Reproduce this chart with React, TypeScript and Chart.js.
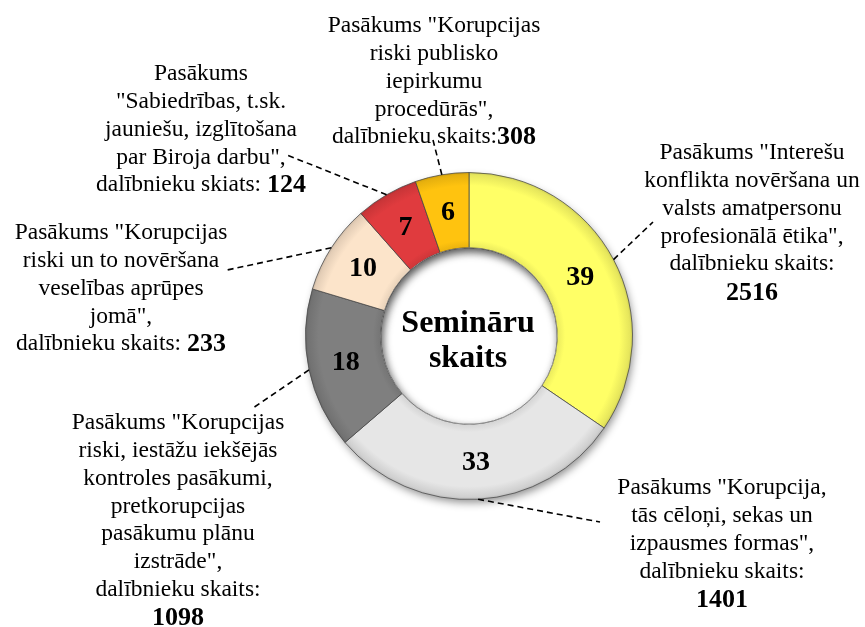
import React, { useEffect, useRef } from 'react';
import { Chart, registerables } from 'chart.js';
Chart.register(...registerables);

// ---- Data ----
const categories = [
  'Interešu konflikta novēršana un valsts amatpersonu profesionālā ētika',
  'Korupcija, tās cēloņi, sekas un izpausmes formas',
  'Korupcijas riski, iestāžu iekšējās kontroles pasākumi, pretkorupcijas pasākumu plānu izstrāde',
  'Korupcijas riski un to novēršana veselības aprūpes jomā',
  'Sabiedrības, t.sk. jauniešu, izglītošana par Biroja darbu',
  'Korupcijas riski publisko iepirkumu procedūrās',
];
const seminarCounts = [39, 33, 18, 10, 7, 6];
const participantCounts = [2516, 1401, 1098, 233, 124, 308];
const centerTitle = ['Semināru', 'skaits'];
// label text lines (the participant count is appended from participantCounts)
const labelLines = [
  ['Pasākums "Interešu', 'konflikta novēršana un', 'valsts amatpersonu', 'profesionālā ētika",', 'dalībnieku skaits:'],
  ['Pasākums "Korupcija,', 'tās cēloņi, sekas un', 'izpausmes formas",', 'dalībnieku skaits:'],
  ['Pasākums "Korupcijas', 'riski, iestāžu iekšējās', 'kontroles pasākumi,', 'pretkorupcijas', 'pasākumu plānu', 'izstrāde",', 'dalībnieku skaits:'],
  ['Pasākums "Korupcijas', 'riski un to novēršana', 'veselības aprūpes', 'jomā",', 'dalībnieku skaits: '],
  ['Pasākums', '"Sabiedrības, t.sk.', 'jauniešu, izglītošana', 'par Biroja darbu",', 'dalībnieku skiats: '],
  ['Pasākums "Korupcijas', 'riski publisko', 'iepirkumu', 'procedūrās",', 'dalībnieku skaits:'],
];

// ---- Styles / layout ----
const sliceColors = ['#FFFF66', '#E6E6E6', '#7F7F7F', '#FCE4CA', '#E03B3E', '#FFC30F'];
const labelLayout = [
  { x: 752, y: 153, valueOwnLine: true, end: [653, 222] },
  { x: 722, y: 488, valueOwnLine: true, end: [600, 522] },
  { x: 178, y: 423, valueOwnLine: true, end: [253, 408] },
  { x: 121, y: 233, valueOwnLine: false, end: [227, 270] },
  { x: 201, y: 74, valueOwnLine: false, end: [287, 155] },
  { x: 434, y: 26, valueOwnLine: false, end: [433, 140] },
];
const LINE_H = 27.8;
const SERIF = '"Liberation Serif", "Times New Roman", serif';
const CUTOUT = 0.54;

function shade(hex: string, amt: number) {
  const n = parseInt(hex.slice(1), 16);
  let r = (n >> 16) & 255, g = (n >> 8) & 255, b = n & 255;
  const f = (c: number) => Math.max(0, Math.min(255, Math.round(amt < 0 ? c * (1 + amt) : c + (255 - c) * amt)));
  return `rgb(${f(r)},${f(g)},${f(b)})`;
}

const annotationPlugin = {
  id: 'annotations',
  beforeDatasetsDraw(chart: any) {
    const ctx = chart.ctx;
    const arc = chart.getDatasetMeta(0).data[0];
    if (!arc) return;
    const { x, y, outerRadius, innerRadius } = arc.getProps(['x', 'y', 'outerRadius', 'innerRadius'], true);
    ctx.save();
    ctx.shadowColor = 'rgba(0,0,0,0.45)';
    ctx.shadowBlur = 9;
    ctx.shadowOffsetX = 2;
    ctx.shadowOffsetY = 4;
    ctx.beginPath();
    ctx.arc(x, y, outerRadius - 1, 0, Math.PI * 2);
    ctx.arc(x, y, innerRadius + 1, 0, Math.PI * 2, true);
    ctx.fillStyle = '#999';
    ctx.fill();
    ctx.restore();
  },
  afterDatasetsDraw(chart: any) {
    const ctx = chart.ctx;
    const meta = chart.getDatasetMeta(0);
    const arc0 = meta.data[0];
    if (!arc0) return;
    const { x: cx, y: cy, innerRadius } = arc0.getProps(['x', 'y', 'innerRadius'], true);

    // inner shadow in the hole
    ctx.save();
    ctx.beginPath();
    ctx.arc(cx, cy, innerRadius, 0, Math.PI * 2);
    ctx.clip();
    ctx.shadowColor = 'rgba(0,0,0,0.45)';
    ctx.shadowBlur = 10;
    ctx.shadowOffsetX = 2;
    ctx.shadowOffsetY = 4;
    ctx.beginPath();
    ctx.arc(cx, cy, innerRadius + 20, 0, Math.PI * 2);
    ctx.lineWidth = 40;
    ctx.strokeStyle = '#fff';
    ctx.stroke();
    ctx.restore();

    // values on slices
    ctx.save();
    ctx.fillStyle = '#000';
    ctx.textAlign = 'center';
    ctx.textBaseline = 'middle';
    ctx.font = `bold 28px ${SERIF}`;
    meta.data.forEach((el: any, i: number) => {
      const p = el.getCenterPoint(true);
      ctx.fillText(String(seminarCounts[i]), p.x, p.y + 1);
    });

    // center title
    ctx.font = `bold 32px ${SERIF}`;
    ctx.fillText(centerTitle[0], cx - 1, cy - 12);
    ctx.fillText(centerTitle[1], cx - 1, cy + 23);
    ctx.restore();

    // leader lines
    ctx.save();
    ctx.strokeStyle = '#000';
    ctx.lineWidth = 1.6;
    ctx.setLineDash([6, 4]);
    meta.data.forEach((el: any, i: number) => {
      const { x, y, startAngle, endAngle, outerRadius } = el.getProps(['x', 'y', 'startAngle', 'endAngle', 'outerRadius'], true);
      const mid = (startAngle + endAngle) / 2;
      const sx = x + Math.cos(mid) * outerRadius;
      const sy = y + Math.sin(mid) * outerRadius;
      const [ex, ey] = labelLayout[i].end;
      ctx.beginPath();
      ctx.moveTo(sx, sy);
      ctx.lineTo(ex, ey);
      ctx.stroke();
    });
    ctx.restore();

    // labels
    ctx.save();
    ctx.fillStyle = '#000';
    ctx.textBaseline = 'middle';
    const normalFont = `23.5px ${SERIF}`;
    const boldFont = `bold 26px ${SERIF}`;
    labelLines.forEach((lines, i) => {
      const lay = labelLayout[i];
      const value = String(participantCounts[i]);
      let yy = lay.y;
      lines.forEach((line, li) => {
        const isLast = li === lines.length - 1;
        if (isLast && !lay.valueOwnLine) {
          ctx.font = normalFont;
          const w1 = ctx.measureText(line).width;
          ctx.font = boldFont;
          const w2 = ctx.measureText(value).width;
          const left = lay.x - (w1 + w2) / 2;
          ctx.textAlign = 'left';
          ctx.font = normalFont;
          ctx.fillText(line, left, yy);
          ctx.font = boldFont;
          ctx.fillText(value, left + w1, yy);
        } else {
          ctx.textAlign = 'center';
          ctx.font = normalFont;
          ctx.fillText(line, lay.x, yy);
        }
        yy += LINE_H;
      });
      if (lay.valueOwnLine) {
        ctx.textAlign = 'center';
        ctx.font = boldFont;
        ctx.fillText(value, lay.x, yy + 1);
      }
    });
    ctx.restore();
  },
};

export default function App() {
  const ref = useRef<HTMLCanvasElement | null>(null);
  useEffect(() => {
    document.body.style.margin = '0';
    if (!ref.current) return;
    const chart = new Chart(ref.current, {
      type: 'doughnut',
      data: {
        labels: categories,
        datasets: [
          {
            data: seminarCounts,
            backgroundColor: (c: any) => {
              const color = sliceColors[c.dataIndex % sliceColors.length];
              const area = c.chart.chartArea;
              if (!area) return color;
              const cx = (area.left + area.right) / 2;
              const cy = (area.top + area.bottom) / 2;
              const r = Math.min(area.right - area.left, area.bottom - area.top) / 2;
              const g = c.chart.ctx.createRadialGradient(cx, cy, r * CUTOUT, cx, cy, r);
              g.addColorStop(0, shade(color, -0.08));
              g.addColorStop(0.1, color);
              g.addColorStop(0.82, color);
              g.addColorStop(0.96, shade(color, -0.1));
              g.addColorStop(1, shade(color, -0.2));
              return g;
            },
            borderColor: 'rgba(70,70,70,0.75)',
            borderWidth: 1,
          },
        ],
      },
      options: {
        responsive: false,
        animation: false,
        cutout: `${CUTOUT * 100}%`,
        layout: { padding: { left: 305, right: 232, top: 172, bottom: 127 } },
        plugins: {
          legend: { display: false },
          tooltip: { enabled: false },
        },
      },
      plugins: [annotationPlugin],
    });
    return () => chart.destroy();
  }, []);
  return (
    <div style={{ width: 865, height: 627, background: '#fff' }}>
      <canvas ref={ref} width={865} height={627} style={{ display: 'block' }} />
    </div>
  );
}
